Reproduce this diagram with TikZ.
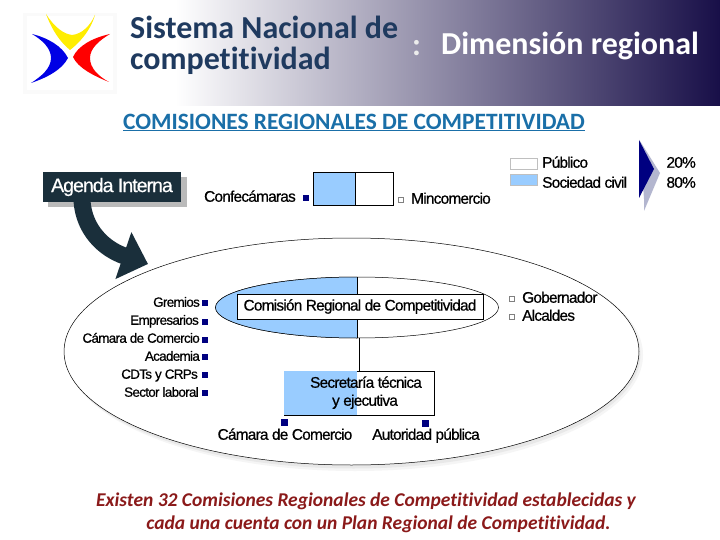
\documentclass[tikz,border=0pt]{standalone}
\usepackage{fontspec}
\usetikzlibrary{shapes.geometric,arrows.meta}
\newfontfamily\headfont[Ligatures=NoCommon]{Carlito}
\newfontfamily\tightfont[LetterSpace=-5,FakeBold=0.6]{Liberation Sans}
\definecolor{navybar}{HTML}{180F48}
\definecolor{midbar}{HTML}{77739A}
\definecolor{titleblue}{HTML}{1F3A5F}
\definecolor{linkblue}{HTML}{1A6FA8}
\definecolor{civilblue}{HTML}{99CCFF}
\definecolor{agendadark}{HTML}{1A2F3B}
\definecolor{squareblue}{HTML}{000080}
\definecolor{chevgray}{HTML}{B3B6CF}
\definecolor{capred}{HTML}{8B1A1A}
\begin{document}
\begin{tikzpicture}[x=1pt,y=-1pt]
    % Node style
    \tikzstyle{body text}=[font=\tightfont\fontsize{15.4}{17}\selectfont,text=black,inner sep=0pt,text height=12.5pt,text depth=3pt]
    \tikzstyle{left text}=[font=\tightfont\fontsize{13.4}{15}\selectfont,text=black,inner sep=0pt,text height=12.5pt,text depth=3pt,anchor=east]
    \tikzstyle{sq node}=[rectangle,fill=squareblue,inner sep=0pt,minimum size=6pt]
    \tikzstyle{hollow sq}=[rectangle,draw=gray,line width=0.4pt,fill=white,inner sep=0pt,minimum size=5pt]
    \tikzstyle{civil box}=[rectangle,draw=black,line width=0.5pt,fill=civilblue,inner sep=0pt]
    \tikzstyle{public box}=[rectangle,draw=black,line width=0.5pt,fill=white,inner sep=0pt]
    \tikzstyle{head text}=[font=\headfont\bfseries\fontsize{32}{35}\selectfont,inner sep=0pt]
    \tikzstyle{closing text}=[font=\headfont\bfseries\itshape\fontsize{19.5}{22}\selectfont,text=capred,inner sep=0pt]

    \useasboundingbox (0,0) rectangle (720,540);
    \fill[white] (0,0) rectangle (720,540);

    % --- Header band ---
    \shade[left color=white,middle color=midbar,right color=navybar] (175,0) rectangle (720,106);
    \node[head text,text=titleblue,anchor=base west] (title_a) at (130,39) {Sistema Nacional de};
    \node[head text,text=titleblue,anchor=base west] (title_b) at (130,70) {competitividad};
    \node[head text,text=white!85!gray,anchor=base west] (title_colon) at (412,56) {:};
    \node[head text,text=white,anchor=base west] (title_c) at (441,55) {Dimensión regional};

    % --- Logo ---
    \fill[black!2] (23,13) rectangle (117,94);
    \fill[white] (27,16) rectangle (113,90);
    \fill[yellow!95!orange] (46,14) .. controls (55,28) and (64,34) .. (72,35) .. controls (82,34) and (90,26) .. (95,15) .. controls (90,32) and (78,44) .. (70,50) .. controls (60,42) and (52,30) .. (46,14) -- cycle;
    \fill[blue!90!black] (32,34) .. controls (48,38) and (62,46) .. (68,58) .. controls (62,70) and (46,78) .. (31,83) .. controls (42,76) and (51,68) .. (51,58) .. controls (51,48) and (42,40) .. (32,34) -- cycle;
    \fill[red] (110,34) .. controls (92,38) and (78,46) .. (73,57) .. controls (78,68) and (94,76) .. (109,82) .. controls (98,76) and (90,68) .. (90,58) .. controls (90,48) and (100,40) .. (110,34) -- cycle;

    % --- Heading ---
    \node[font=\headfont\bfseries\fontsize{23.4}{26}\selectfont,text=linkblue,inner sep=0pt] (heading) at (354,122.5) {\underline{COMISIONES REGIONALES DE COMPETITIVIDAD}};

    % --- Big region and its shadow ---
    \fill[black!4] (355,355) ellipse [x radius=288pt,y radius=116pt];
    \fill[black!9] (353.5,354.5) ellipse [x radius=287pt,y radius=114pt];
    \node[ellipse,draw=black,line width=0.5pt,fill=white,minimum width=575pt,minimum height=227pt,inner sep=0pt] (region) at (351.5,351.5) {};

    % --- Agenda box and arrow ---
    \fill[black!27] (48,177) rectangle (187,207);
    \node[rectangle,fill=agendadark,text=white,minimum width=138pt,minimum height=30pt,inner sep=0pt,font=\tightfont\fontsize{19.5}{21}\selectfont] (agenda) at (112,187) {Agenda Interna};
    \coordinate (agenda_tail) at (82,201);
    \coordinate (agenda_tip) at (148,264);
    \draw[agendadark,line width=17pt,-{Triangle[length=26pt,width=48pt]}] (agenda_tail) .. controls (84,230) and (104,249) .. (agenda_tip);

    % --- Top pair of boxes ---
    \node[civil box,minimum width=42pt,minimum height=33pt] (top_civil) at (334,188.5) {};
    \node[public box,minimum width=38pt,minimum height=33pt] (top_public) at (374,188.5) {};
    \node[body text,anchor=east] (confecamaras) at (296,197) {Confecámaras};
    \node[sq node] (sq_confe) at (306,198) {};
    \node[hollow sq] (sq_minco) at (401,200) {};
    \node[body text,anchor=west] (mincomercio) at (411,199) {Mincomercio};

    % --- Legend ---
    \node[rectangle,draw=black!25,line width=0.4pt,fill=white,minimum width=27pt,minimum height=11pt,inner sep=0pt] (key_public) at (524,164) {};
    \node[rectangle,draw=black!25,line width=0.4pt,fill=civilblue,minimum width=27pt,minimum height=11pt,inner sep=0pt] (key_civil) at (524,180) {};
    \node[body text,anchor=west] (txt_public) at (542,163) {Público};
    \node[body text,anchor=west] (txt_civil) at (542,183) {Sociedad civil};
    \fill[chevgray] (640,141) -- (660,173) -- (644,211) -- (644,199) -- cycle;
    \fill[squareblue] (639,140) -- (654,169) -- (639,198) -- cycle;
    \node[body text,anchor=east] (pct_public) at (696,163) {20\%};
    \node[body text,anchor=east] (pct_civil) at (696,183) {80\%};

    % --- Regional commission ---
    \node[ellipse,draw=black,line width=0.5pt,fill=white,minimum width=283pt,minimum height=61pt,inner sep=0pt] (comision_oval) at (357,307.5) {};
    \fill[civilblue] (357,277) arc [start angle=90,end angle=270,x radius=141.5pt,y radius=30.5pt] -- cycle;
    \draw[line width=0.5pt] (357,277) arc [start angle=90,end angle=270,x radius=141.5pt,y radius=30.5pt];
    \draw[line width=0.5pt] (comision_oval.north) -- (comision_oval.south);
    \node[public box,minimum width=246pt,minimum height=25pt,font=\tightfont\fontsize{15.4}{17}\selectfont] (comision) at (360,306.5) {Comisión Regional de Competitividad};

    % --- Technical secretariat ---
    \node[public box,minimum width=150pt,minimum height=44pt] (secretaria) at (359,393) {};
    \fill[civilblue] ([xshift=0.3pt,yshift=-0.3pt]secretaria.north west) rectangle (357,414.7);
    \draw[line width=0.5pt] (secretaria.north) -- (secretaria.north |- comision_oval.south);
    \node[body text] (sec_a) at (366,383) {Secretaría técnica};
    \node[body text] (sec_b) at (365,401) {y ejecutiva};
    \node[sq node,minimum size=7pt] (sq_camara) at (284,422.5) {};
    \node[sq node,minimum size=7pt] (sq_autoridad) at (425.5,423) {};
    \node[body text] (camara) at (285,435) {Cámara de Comercio};
    \node[body text] (autoridad) at (426,435) {Autoridad pública};

    % --- Members, left ---
    \node[left text] (gremios) at (200,302) {Gremios};
    \node[left text] (empresarios) at (199,320) {Empresarios};
    \node[left text] (camara_left) at (200,338) {Cámara de Comercio};
    \node[left text] (academia) at (200,356) {Academia};
    \node[left text] (cdts) at (198,374) {CDTs y CRPs};
    \node[left text] (laboral) at (199,392) {Sector laboral};
    \node[sq node] (sq_gremios) at (205,303) {};
    \node[sq node] (sq_empresarios) at (205,322) {};
    \node[sq node] (sq_camara_left) at (205,340) {};
    \node[sq node] (sq_academia) at (205,357) {};
    \node[sq node] (sq_cdts) at (205,375) {};
    \node[sq node] (sq_laboral) at (205,393) {};

    % --- Members, right ---
    \node[hollow sq] (sq_gober) at (512,299) {};
    \node[hollow sq] (sq_alcaldes) at (512,317) {};
    \node[body text,anchor=west] (gobernador) at (522,298) {Gobernador};
    \node[body text,anchor=west] (alcaldes) at (522,316) {Alcaldes};

    % --- Closing text ---
    \node[closing text] (caption_a) at (366,501) {Existen 32 Comisiones Regionales de Competitividad establecidas y};
    \node[closing text] (caption_b) at (378.5,524) {cada una cuenta con un Plan Regional de Competitividad.};
\end{tikzpicture}
\end{document}
